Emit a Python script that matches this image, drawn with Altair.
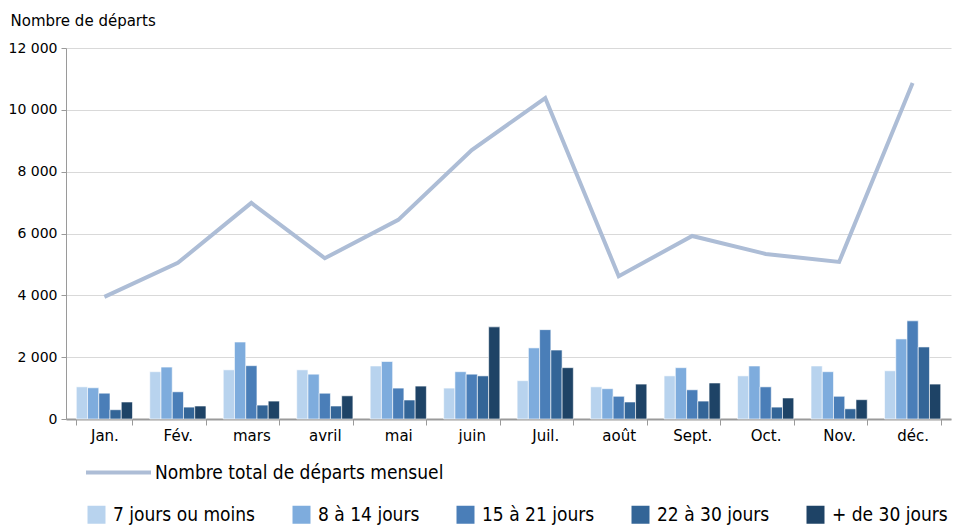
import altair as alt
import pandas as pd

months = ["Jan.", "Fév.", "mars", "avril", "mai", "juin", "Juil.", "août", "Sept.", "Oct.", "Nov.", "déc."]
categories = ["7 jours ou moins", "8 à 14 jours", "15 à 21 jours", "22 à 30 jours", "+ de 30 jours"]
colors = ["#b8d3ee", "#7eacdd", "#4a7eb8", "#336597", "#1e4366"]

d7 = [1040, 1530, 1590, 1590, 1715, 1000, 1240, 1040, 1395, 1395, 1715, 1560]
d14 = [1010, 1680, 2490, 1450, 1860, 1530, 2300, 980, 1660, 1715, 1530, 2590]
d21 = [835, 880, 1725, 835, 1000, 1450, 2890, 735, 945, 1040, 735, 3175]
d30 = [300, 385, 450, 420, 615, 1395, 2230, 550, 580, 385, 330, 2330]
d31 = [550, 420, 580, 750, 1065, 2980, 1660, 1130, 1165, 680, 625, 1130]
total = [3950, 5050, 6990, 5200, 6440, 8700, 10380, 4620, 5920, 5340, 5080, 10870]

line_name = "Nombre total de départs mensuel"

rows = []
for cat, vals in zip(categories, [d7, d14, d21, d30, d31]):
    for m, v in zip(months, vals):
        rows.append({"mois": m, "cat": cat, "val": v})
bars_df = pd.DataFrame(rows)
line_df = pd.DataFrame({"mois": months, "total": total, "serie": [line_name] * len(months)})

FONT = "DejaVu Sans"
LFONT = "DejaVu Sans Condensed"

xscale = alt.Scale(domain=months, paddingInner=0.235, paddingOuter=0.14)
yscale = alt.Scale(domain=[0, 12000], nice=False)

xaxis = alt.Axis(title=None, labelAngle=0, tickBand="extent", labelFont=FONT, labelFontSize=15,
                 labelColor="#000000", domainColor="#9a9a9a", domainWidth=2, tickColor="#9a9a9a",
                 tickSize=6, labelPadding=3, grid=False)
yaxis = alt.Axis(title="Nombre de départs", titleAngle=0, titleAlign="left", titleX=-56, titleY=-20,
                 titleFont=FONT, titleFontSize=15, titleFontWeight="normal", titleColor="#000000",
                 values=[0, 2000, 4000, 6000, 8000, 10000, 12000],
                 labelExpr="replace(format(datum.value, ','), ',', ' ')",
                 labelFont=FONT, labelFontSize=14, labelColor="#000000",
                 domainColor="#9a9a9a", tickColor="#9a9a9a", tickSize=5,
                 grid=True, gridColor="#d9d9d9", labelPadding=4)

bars = alt.Chart(bars_df).mark_bar(stroke="white", strokeWidth=0.6).encode(
    x=alt.X("mois:N", scale=xscale, axis=xaxis, sort=months),
    xOffset=alt.XOffset("cat:N", sort=categories, scale=alt.Scale(domain=categories, paddingInner=0.0)),
    y=alt.Y("val:Q", scale=yscale, axis=yaxis),
    color=alt.Color("cat:N", scale=alt.Scale(domain=categories, range=colors),
                    legend=alt.Legend(title=None, orient="none", legendX=21, legendY=457,
                                      direction="horizontal", symbolType="square", symbolSize=324,
                                      symbolStrokeWidth=0, labelFont=LFONT, labelFontSize=19,
                                      labelColor="#000000", columnPadding=36, labelOffset=7,
                                      labelLimit=400)),
)

line = alt.Chart(line_df).mark_line(strokeWidth=4).encode(
    x=alt.X("mois:N", scale=xscale, sort=months),
    y=alt.Y("total:Q", scale=yscale),
    stroke=alt.Stroke("serie:N", scale=alt.Scale(domain=[line_name], range=["#adbdd6"]),
                      legend=alt.Legend(title=None, orient="none", legendX=18, legendY=390,
                                        symbolType="stroke", symbolSize=4225, symbolStrokeWidth=4,
                                        labelFont=LFONT, labelFontSize=19, labelColor="#000000",
                                        labelOffset=2, labelLimit=500)),
)

chart = alt.layer(bars, line).properties(
    width=885, height=371,
    autosize=alt.AutoSizeParams(type="none"),
    padding={"left": 58, "top": 40, "right": 1, "bottom": 106},
).configure_view(stroke=None)

chart.save("out.html", embed_options={"renderer": "svg", "actions": False})
